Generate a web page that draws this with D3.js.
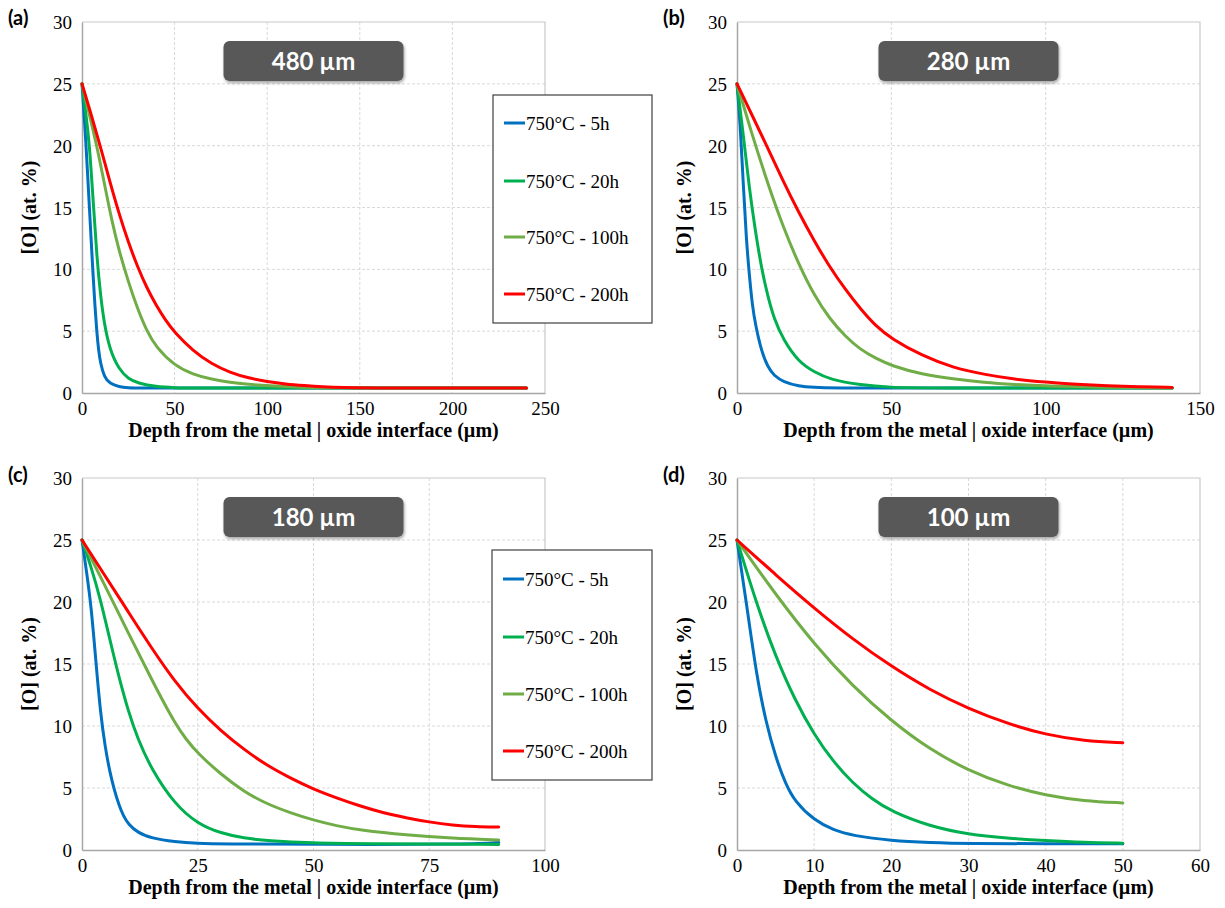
<!DOCTYPE html>
<html><head><meta charset="utf-8">
<script src="https://cdn.jsdelivr.net/npm/d3@7/dist/d3.min.js"></script>
<style>body{margin:0;background:#fff}svg{display:block}
.serif{font-family:"Liberation Serif","Times New Roman","DejaVu Serif",serif;}
.sans{font-family:Lato,"Open Sans",sans-serif;}
</style>
</head><body>
<svg id="chart" width="1225" height="908"></svg>
<script>
// ---------- data ----------
const seriesNames = ["750°C - 5h", "750°C - 20h", "750°C - 100h", "750°C - 200h"];
const seriesColors = ["#0070C0", "#00B050", "#70AD47", "#FF0000"];
const panelLetters = ["(a)", "(b)", "(c)", "(d)"];
const panelTitles = ["480 µm", "280 µm", "180 µm", "100 µm"];
const xMax = [250, 150, 100, 60];
const xTicks = [[0,50,100,150,200,250],[0,50,100,150],[0,25,50,75,100],[0,10,20,30,40,50,60]];
const yTicks = [0,5,10,15,20,25,30];
const xLabel = "Depth from the metal | oxide interface (µm)";
const yLabel = "[O] (at. %)";

// (a) 480 µm
const a_5h = [[0,25],[1,22.8],[2,20.5],[3,17.8],[4,15],[5,12.2],[6,9.5],[7,7],[8,4.9],[9,3.4],[10,2.4],[12,1.3],[15,0.75],[20,0.5],[25,0.42],[30,0.4],[60,0.4],[120,0.4],[240,0.4]];
const a_20h = [[0,25],[2,22.7],[4,20.2],[6,15.6],[8,11],[10,7.9],[12,5.6],[15,3.5],[20,1.9],[25,1.15],[30,0.8],[40,0.5],[50,0.42],[60,0.4],[120,0.4],[240,0.4]];
const a_100h = [[0,25],[4,22.5],[8,20],[12,17],[16,14],[20,11.5],[25,9],[30,6.8],[35,5],[40,3.7],[50,2.2],[60,1.5],[70,1.1],[80,0.85],[90,0.7],[100,0.58],[120,0.46],[140,0.42],[160,0.4],[240,0.4]];
const a_200h = [[0,25],[5,22.5],[10,19.9],[15,17.1],[20,14.5],[25,12.2],[30,10.2],[35,8.5],[40,7.1],[45,5.9],[50,4.9],[60,3.4],[70,2.35],[80,1.65],[90,1.2],[100,0.92],[110,0.72],[120,0.6],[130,0.5],[140,0.44],[160,0.4],[240,0.4]];

// (b) 280 µm
const b_5h = [[0,25],[1,22],[2,17],[3,12.5],[4,9.5],[5,7],[6,5.5],[8,3.3],[10,2.1],[12,1.4],[15,0.9],[20,0.55],[25,0.45],[30,0.4],[60,0.4],[141,0.4]];
const b_20h = [[0,25],[2,21],[4,16.5],[6,13],[8,10],[10,7.8],[12,6],[15,4.3],[20,2.5],[25,1.7],[30,1.1],[40,0.65],[50,0.45],[60,0.4],[141,0.4]];
const b_100h = [[0,25],[5,20.8],[10,16.9],[15,13.4],[20,10.4],[25,7.9],[30,6],[35,4.6],[40,3.5],[45,2.8],[50,2.2],[60,1.5],[70,1.15],[80,0.85],[90,0.68],[100,0.56],[120,0.45],[141,0.4]];
const b_200h = [[0,25],[5,22.4],[10,19.8],[15,17.1],[20,14.6],[25,12.3],[30,10.2],[35,8.4],[40,6.8],[45,5.4],[50,4.4],[60,3],[70,2.05],[80,1.5],[90,1.1],[100,0.87],[110,0.7],[120,0.58],[130,0.5],[141,0.45]];

// (c) 180 µm
const c_5h = [[0,25],[1,22.4],[2,19.6],[3,15.2],[4,11],[5,8.3],[6,6.3],[7,4.8],[8,3.6],[9,2.7],[10,2.1],[12,1.4],[15,0.95],[20,0.65],[25,0.52],[30,0.48],[50,0.45],[85,0.45],[90,0.6]];
const c_20h = [[0,25],[2,22.8],[4,20.2],[6,17],[8,13.9],[10,11.2],[12,9],[15,6.5],[20,3.7],[25,2.1],[30,1.35],[35,0.95],[40,0.75],[50,0.55],[60,0.5],[90,0.45]];
const c_100h = [[0,25],[5,21.3],[10,17.5],[15,13.8],[17.5,12],[20,10.3],[22.5,8.9],[25,7.8],[30,6.1],[35,4.7],[40,3.7],[45,3],[50,2.4],[55,1.95],[60,1.6],[70,1.2],[80,0.95],[90,0.8]];
const c_200h = [[0,25],[5,22.1],[10,19.2],[15,16.3],[20,13.6],[25,11.4],[30,9.6],[35,8.1],[40,6.8],[45,5.8],[50,4.9],[55,4.2],[60,3.55],[65,3],[70,2.6],[75,2.25],[80,2],[85,1.88],[90,1.85]];

// (d) 100 µm
const d_5h = [[0,25],[1.25,19.8],[2.5,14.2],[3.75,10.3],[5,7.5],[6.25,5.4],[7.5,3.9],[10,2.4],[12.5,1.6],[15,1.15],[20,0.75],[25,0.6],[30,0.52],[40,0.5],[50,0.5]];
const d_20h = [[0,25],[2.5,19.9],[5,15.6],[7.5,12.1],[10,9.3],[12.5,7.1],[15,5.4],[17.5,4.1],[20,3.1],[25,1.9],[30,1.25],[35,0.95],[40,0.75],[45,0.6],[50,0.55]];
const d_100h = [[0,25],[5,20.6],[10,16.6],[15,13.2],[20,10.4],[25,8.1],[30,6.4],[35,5.2],[40,4.4],[45,3.95],[50,3.8]];
const d_200h = [[0,25],[5,22.2],[10,19.5],[15,17],[20,14.8],[25,12.9],[30,11.4],[35,10.2],[40,9.3],[45,8.8],[50,8.65]];

const panelData = [
  [a_5h, a_20h, a_100h, a_200h],
  [b_5h, b_20h, b_100h, b_200h],
  [c_5h, c_20h, c_100h, c_200h],
  [d_5h, d_20h, d_100h, d_200h]
];

// ---------- layout ----------
const boxes = [
  {l:82, r:545, t:22, b:393, lx:8, ly:25},
  {l:737, r:1200, t:22, b:393, lx:663, ly:25},
  {l:82, r:545, t:478, b:850, lx:8, ly:482},
  {l:737, r:1200, t:478, b:850, lx:663, ly:482}
];
const legendPanels = {0:{x:493, y:95, w:159, h:228, rows:[123,181,237,294]}, 2:{x:492, y:550, w:160, h:230, rows:[579,637,694,751]}};

const svg = d3.select("#chart");
const defs = svg.append("defs");
const f = defs.append("filter").attr("id","sh").attr("x","-10%").attr("y","-20%").attr("width","125%").attr("height","150%");
f.append("feDropShadow").attr("dx",1).attr("dy",2).attr("stdDeviation",1.5).attr("flood-color","#000").attr("flood-opacity",0.35);

boxes.forEach((bx, i) => {
  const x = d3.scaleLinear().domain([0, xMax[i]]).range([bx.l, bx.r]);
  const y = d3.scaleLinear().domain([0, 30]).range([bx.b, bx.t]);
  const g = svg.append("g");

  // gridlines
  g.selectAll(".gy").data(yTicks.filter(v => v > 0 && v < 30)).join("line")
    .attr("x1", bx.l).attr("x2", bx.r).attr("y1", d => y(d)).attr("y2", d => y(d))
    .attr("stroke", "#d9d9d9").attr("stroke-width", 1).attr("stroke-dasharray", "3,2");
  g.selectAll(".gx").data(xTicks[i].filter(v => v > 0 && v < xMax[i])).join("line")
    .attr("y1", bx.t).attr("y2", bx.b).attr("x1", d => x(d)).attr("x2", d => x(d))
    .attr("stroke", "#d9d9d9").attr("stroke-width", 1).attr("stroke-dasharray", "3,2");
  g.append("path").attr("d", `M${bx.l},${bx.t}H${bx.r}V${bx.b}`).attr("fill","none").attr("stroke","#c8c8c8").attr("stroke-width",1.2);

  // axes
  const xa = g.append("g").attr("transform", `translate(0,${bx.b})`)
    .call(d3.axisBottom(x).tickValues(xTicks[i]).tickSize(0).tickPadding(6).tickFormat(d3.format("d")));
  const ya = g.append("g").attr("transform", `translate(${bx.l},0)`)
    .call(d3.axisLeft(y).tickValues(yTicks).tickSize(0).tickPadding(10).tickFormat(d3.format("d")));
  [xa, ya].forEach(a => {
    a.attr("font-family", null).attr("font-size", null).attr("class", "serif");
    a.select(".domain").attr("stroke", "#a6a6a6").attr("stroke-width", 1.5);
    a.selectAll("text").attr("class", "serif").style("font-size", "19px").attr("fill", "#000");
  });
  xa.selectAll("text").attr("dy", "0.85em");
  ya.selectAll("text").attr("dy", "0.35em");

  // lines
  const line = d3.line().x(d => x(d[0])).y(d => y(d[1])).curve(d3.curveBasis);
  g.selectAll(".s").data(panelData[i]).join("path")
    .attr("d", line).attr("fill", "none")
    .attr("stroke", (d, k) => seriesColors[k]).attr("stroke-width", 3)
    .attr("stroke-linejoin", "round").attr("stroke-linecap", "round");

  // axis titles
  g.append("text").attr("class","serif").attr("x", (bx.l + bx.r) / 2).attr("y", bx.b + 44)
    .attr("text-anchor", "middle").style("font-weight", "bold")
    .style("font-size", "20px").text(xLabel);
  g.append("text").attr("class","serif").attr("transform", `translate(${bx.l - 46},${(bx.t + bx.b) / 2}) rotate(-90)`)
    .attr("text-anchor", "middle").style("font-weight", "bold")
    .style("font-size", "20px").text(yLabel);

  // panel letter
  g.append("text").attr("class","sans").attr("x", bx.lx).attr("y", bx.ly)
    .style("font-weight", "bold").style("font-size", "20px").text(panelLetters[i]);

  // title box
  const cx = (bx.l + bx.r) / 2, bw = 180, bh = 40, by = bx.t + 19;
  g.append("rect").attr("x", cx - bw / 2).attr("y", by).attr("width", bw).attr("height", bh)
    .attr("rx", 6).attr("fill", "#595959").attr("filter", "url(#sh)");
  g.append("text").attr("class","sans").attr("x", cx).attr("y", by + bh / 2).attr("dy", "0.36em").attr("text-anchor", "middle")
    .style("font-weight", "bold").style("font-size", "24px")
    .attr("fill", "#fff").text(panelTitles[i]);

  // legend
  const lg = legendPanels[i];
  if (lg) {
    g.append("rect").attr("x", lg.x).attr("y", lg.y).attr("width", lg.w).attr("height", lg.h)
      .attr("fill", "#fff").attr("stroke", "#404040").attr("stroke-width", 1.2);
    seriesNames.forEach((nm, k) => {
      g.append("line").attr("x1", lg.x + 11).attr("x2", lg.x + 32).attr("y1", lg.rows[k]).attr("y2", lg.rows[k])
        .attr("stroke", seriesColors[k]).attr("stroke-width", 3);
      g.append("text").attr("class","serif").attr("x", lg.x + 33).attr("y", lg.rows[k]).attr("dy", "0.35em")
        .style("font-size", "19px").text(nm);
    });
  }
});
</script>
</body></html>
